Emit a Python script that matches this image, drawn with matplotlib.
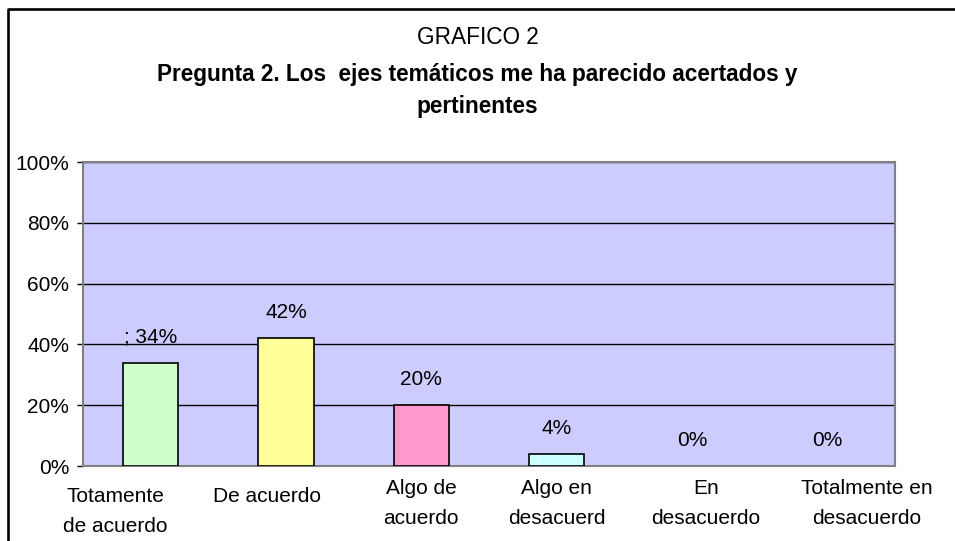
import numpy as np
import matplotlib.pyplot as plt
from matplotlib.lines import Line2D
from matplotlib.ticker import FuncFormatter
import matplotlib.transforms as mtransforms

plt.rcParams["font.family"] = ["Liberation Sans", "DejaVu Sans"]

# datos del grafico
categorias = [
    "Totamente\nde acuerdo",
    "De acuerdo",
    "Algo de\nacuerdo",
    "Algo en\ndesacuerd\no",
    "En\ndesacuerdo",
    "Totalmente en\ndesacuerdo",
]
valores = [34, 42, 20, 4, 0, 0]
etiquetas = ["; 34%", "42%", "20%", "4%", "0%", "0%"]
colores = ["#CCFFCC", "#FFFF99", "#FF99CC", "#CCFFFF", "#CCFFCC", "#FFFF99"]
y_ticks = [0, 20, 40, 60, 80, 100]

W, H = 955, 541
fig = plt.figure(figsize=(W / 100, H / 100), dpi=100)

# marco exterior (solo borde izquierdo y superior visibles)
fig.add_artist(Line2D([8 / W, 8 / W, 1], [0, 1 - 8.5 / H, 1 - 8.5 / H],
                      transform=fig.transFigure, color="black", linewidth=1.9))

fs = 15
fs_tit = 16.3
fig.text(0.5, 1 - 37 / H, "GRAFICO 2", ha="center", va="center", fontsize=fs_tit)
fig.text(0.5, 1 - 74 / H, "Pregunta 2. Los  ejes temáticos me ha parecido acertados y",
         ha="center", va="center", fontsize=fs_tit, fontweight="bold")
fig.text(0.5, 1 - 106 / H, "pertinentes", ha="center", va="center",
         fontsize=fs_tit, fontweight="bold")

ax = fig.add_axes([83 / W, (H - 466) / H, 812 / W, (466 - 162) / H])
ax.set_facecolor("#CCCCFF")

x = np.arange(len(categorias))
barras = ax.bar(x, valores, width=0.41, color=colores, edgecolor="black", linewidth=1.2, zorder=3)
# las barras de 0% no se ven en el original
for b, v in zip(barras, valores):
    if v == 0:
        b.set_linewidth(0)

for xi, v, lab in zip(x, valores, etiquetas):
    ax.annotate(lab, (xi, v), xytext=(0, 18.5), textcoords="offset points",
                ha="center", va="center", fontsize=fs, zorder=4)

ax.set_xlim(-0.5, len(categorias) - 0.5)
ax.set_ylim(0, 100)
ax.set_yticks(y_ticks)
ax.yaxis.set_major_formatter(FuncFormatter(lambda v, p: f"{v:.0f}%"))
ax.yaxis.grid(True, color="black", linewidth=1.0, zorder=1)
ax.set_axisbelow(True)
ax.tick_params(axis="y", length=4, width=1, labelsize=fs, pad=6, color="black")
ax.set_xticks(x)
ax.set_xticklabels(categorias, fontsize=fs, linespacing=1.75)
ax.tick_params(axis="x", length=0, pad=9)

# desplazamiento de las etiquetas del eje x como en el original (px)
dx = [-35, -19, 0, 0, 14, 39]
dy = [-8, -8, 0, 0, 0, 0]
for t, ox, oy in zip(ax.get_xticklabels(), dx, dy):
    t.set_transform(t.get_transform() + mtransforms.ScaledTranslation(ox / 100, oy / 100, fig.dpi_scale_trans))

for side in ["top", "right", "bottom", "left"]:
    ax.spines[side].set_color("#808080")
    ax.spines[side].set_linewidth(1.5)

fig.savefig("out.png", dpi=100)
